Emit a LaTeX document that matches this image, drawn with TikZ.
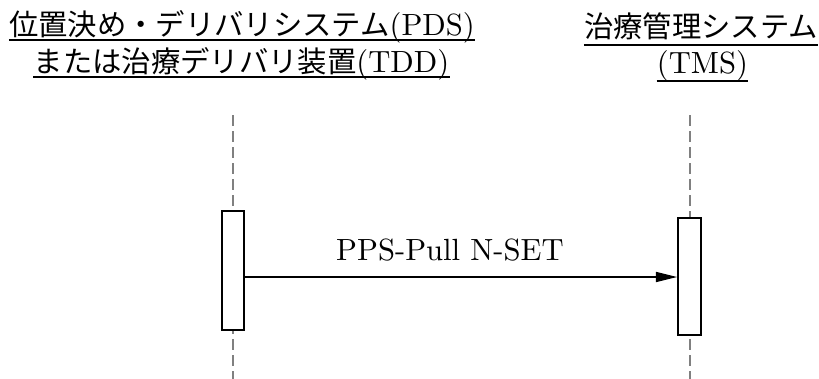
\documentclass[tikz,border=0pt]{standalone}
\usepackage{fontspec}
\setmainfont{lmroman10-regular.otf}
\newfontfamily\jpfont{Noto Sans CJK JP}[Scale=0.9565]
\usetikzlibrary{arrows.meta}

\tikzset{
	lifeline/.style = {gray, line width=1.5pt, dash pattern=on 8.5pt off 3.5pt},
	actbox/.style = {draw, fill=white, line width=1.2pt, inner sep=0pt},
	msgarrow/.style = {line width=1.2pt, -{Triangle[length=16pt, width=7.5pt]}},
	title/.style = {anchor=base, inner sep=0pt, font=\fontsize{23}{28}\selectfont},
	uline/.style = {line width=1.5pt}
}

\begin{document}
\begin{tikzpicture} [x = 0.75pt, y = -0.75pt]
	\useasboundingbox (0,0) rectangle (819,379);
	% headings
	\node [title] (pdsa) at (242,35) {{\jpfont 位置決め・デリバリシステム}(PDS)};
	\node [title] (pdsb) at (241.5,72) {{\jpfont または治療デリバリ装置}(TDD)};
	\node [title] (tmsa) at (701,37) {\jpfont 治療管理システム};
	\node [title] (tmsb) at (702.5,73) {(TMS)};
	\draw [uline] ([yshift=-3.75pt]pdsa.base west) -- ([yshift=-3.75pt]pdsa.base east);
	\draw [uline] ([yshift=-3.75pt]pdsb.base west) -- ([yshift=-3.75pt]pdsb.base east);
	\draw [uline] ([yshift=-6pt]tmsa.base west) -- ([yshift=-6pt]tmsa.base east);
	\draw [uline] ([yshift=-6pt]tmsb.base west) -- ([yshift=-6pt]tmsb.base east);
	% lifelines
	\coordinate (pdstop) at (233,115);
	\coordinate (pdsend) at (233,379);
	\coordinate (tmstop) at (689.5,115);
	\coordinate (tmsend) at (689.5,379);
	\draw [lifeline] (pdstop) -- (pdsend);
	\draw [lifeline] (tmstop) -- (tmsend);
	% activations
	\node [actbox, minimum width=16.5pt, minimum height=89.25pt] (pdsact) at (233,270.5) {};
	\node [actbox, minimum width=17.25pt, minimum height=87.75pt] (tmsact) at (689.5,276.5) {};
	% message
	\coordinate (msg) at (0,277);
	\draw [msgarrow] (pdsact.east |- msg) -- (tmsact.west |- msg);
	\node [title] (msglbl) at (450,260) {PPS-Pull N-SET};
\end{tikzpicture}
\end{document}
